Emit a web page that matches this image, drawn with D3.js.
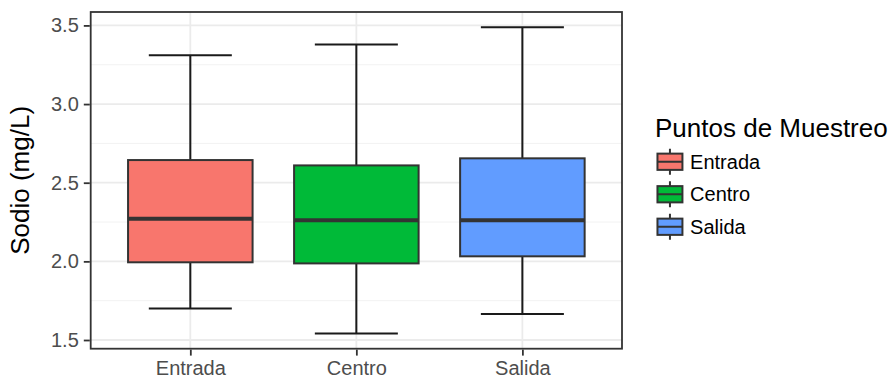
<!DOCTYPE html>
<html lang="en">
<head>
  <meta charset="UTF-8">
  <title>Sodio boxplot</title>
</head>
<body>
<style>
  * {
    padding: 0;
    margin: 0;
  }

  body {
    background: #fff;
  }

  #app {
    width: 894px;
    height: 379px;
  }

  #app svg {
    display: block;
    font-family: "Liberation Sans", Arial, sans-serif;
  }
</style>

<div id="app"></div>

<script src="https://cdn.jsdelivr.net/npm/d3@7"></script>
<script>
  // puntos de muestreo y sus resumenes
  var categories = ["Entrada", "Centro", "Salida"];
  var whiskerLow = [1.700, 1.542, 1.665];
  var q1 = [1.994, 1.987, 2.032];
  var median = [2.271, 2.261, 2.261];
  var q3 = [2.644, 2.610, 2.655];
  var whiskerHigh = [3.310, 3.379, 3.488];
  var fills = ["#F8766D", "#00BA38", "#619CFF"];
  var yTicks = [1.5, 2.0, 2.5, 3.0, 3.5];
  var yMinor = [1.75, 2.25, 2.75, 3.25];

  var W = 894, H = 379;
  var panel = {left: 90.7, top: 12, right: 622, bottom: 348.7};

  var svg = d3.select('#app').append('svg')
    .attr('width', W).attr('height', H)
    .attr('viewBox', '0,0 ' + W + ',' + H);

  var rows = categories.map(function (c, i) {
    return {name: c, lo: whiskerLow[i], q1: q1[i], med: median[i], q3: q3[i], hi: whiskerHigh[i], fill: fills[i]};
  });

  // ggplot-like 5% expansion
  var ext = [d3.min(whiskerLow), d3.max(whiskerHigh)];
  var pad = (ext[1] - ext[0]) * 0.05;
  var y = d3.scaleLinear().domain([ext[0] - pad, ext[1] + pad]).range([panel.bottom, panel.top]);
  var x = d3.scalePoint().domain(categories).range([panel.left, panel.right]).padding(0.6);
  var step = x.step();

  // grid
  var grid = svg.append('g');
  grid.selectAll('.minor').data(yMinor).join('line')
    .attr('x1', panel.left).attr('x2', panel.right)
    .attr('y1', d => y(d)).attr('y2', d => y(d))
    .attr('stroke', '#F2F2F2').attr('stroke-width', 1);
  grid.selectAll('.major').data(yTicks).join('line')
    .attr('x1', panel.left).attr('x2', panel.right)
    .attr('y1', d => y(d)).attr('y2', d => y(d))
    .attr('stroke', '#EBEBEB').attr('stroke-width', 1.8);
  grid.selectAll('.vmajor').data(categories).join('line')
    .attr('x1', d => x(d)).attr('x2', d => x(d))
    .attr('y1', panel.top).attr('y2', panel.bottom)
    .attr('stroke', '#EBEBEB').attr('stroke-width', 1.8);

  // error bars (whiskers with caps)
  var eb = svg.append('g').selectAll('g').data(rows).join('g');
  eb.append('line')
    .attr('x1', d => x(d.name)).attr('x2', d => x(d.name))
    .attr('y1', d => y(d.lo)).attr('y2', d => y(d.hi))
    .attr('stroke', '#1a1a1a').attr('stroke-width', 2);
  eb.append('line')
    .attr('x1', d => x(d.name) - step * 0.25).attr('x2', d => x(d.name) + step * 0.25)
    .attr('y1', d => y(d.hi)).attr('y2', d => y(d.hi))
    .attr('stroke', '#1a1a1a').attr('stroke-width', 2);
  eb.append('line')
    .attr('x1', d => x(d.name) - step * 0.25).attr('x2', d => x(d.name) + step * 0.25)
    .attr('y1', d => y(d.lo)).attr('y2', d => y(d.lo))
    .attr('stroke', '#1a1a1a').attr('stroke-width', 2);

  // boxes
  var bx = svg.append('g').selectAll('g').data(rows).join('g');
  bx.append('rect')
    .attr('x', d => x(d.name) - step * 0.375).attr('width', step * 0.75)
    .attr('y', d => y(d.q3)).attr('height', d => y(d.q1) - y(d.q3))
    .attr('fill', d => d.fill).attr('stroke', '#333333').attr('stroke-width', 2);
  bx.append('line')
    .attr('x1', d => x(d.name) - step * 0.375).attr('x2', d => x(d.name) + step * 0.375)
    .attr('y1', d => y(d.med)).attr('y2', d => y(d.med))
    .attr('stroke', '#333333').attr('stroke-width', 4);

  // panel border
  svg.append('rect')
    .attr('x', panel.left).attr('y', panel.top)
    .attr('width', panel.right - panel.left).attr('height', panel.bottom - panel.top)
    .attr('fill', 'none').attr('stroke', '#333333').attr('stroke-width', 1.8);

  // axes
  var yAxis = svg.append('g')
    .attr('transform', 'translate(' + (panel.left - 0.9) + ',0)')
    .call(d3.axisLeft(y).tickValues(yTicks).tickFormat(d3.format('.1f')).tickSize(6).tickPadding(5));
  var xAxis = svg.append('g')
    .attr('transform', 'translate(0,' + (panel.bottom + 0.9) + ')')
    .call(d3.axisBottom(x).tickSize(6).tickPadding(4));
  [yAxis, xAxis].forEach(function (a) {
    a.select('.domain').remove();
    a.selectAll('.tick line').attr('stroke', '#333333').attr('stroke-width', 1.8);
    a.selectAll('.tick text').attr('fill', '#4D4D4D')
      .style('font-size', '20px').style('font-family', '"Liberation Sans", Arial, sans-serif');
  });
  xAxis.selectAll('.tick text').attr('dy', '0.75em');

  // axis title
  svg.append('text')
    .attr('transform', 'translate(29,' + ((panel.top + panel.bottom) / 2) + ') rotate(-90)')
    .attr('text-anchor', 'middle')
    .style('font-size', '26px').attr('fill', '#000')
    .text('Sodio (mg/L)');

  // legend
  var lg = svg.append('g');
  lg.append('text').attr('x', 655).attr('y', 137)
    .style('font-size', '26px').attr('fill', '#000')
    .text('Puntos de Muestreo');
  var keyH = 32.5, keyW = 33.3, keyX = 653.3, keyY0 = 145.5;
  var keys = lg.selectAll('.key').data(rows).join('g')
    .attr('transform', (d, i) => 'translate(' + keyX + ',' + (keyY0 + i * keyH) + ')');
  keys.append('line')
    .attr('x1', keyW / 2).attr('x2', keyW / 2)
    .attr('y1', keyH * 0.1).attr('y2', keyH * 0.9)
    .attr('stroke', '#333333').attr('stroke-width', 2);
  keys.append('rect')
    .attr('x', keyW * 0.125).attr('width', keyW * 0.75)
    .attr('y', keyH * 0.25).attr('height', keyH * 0.5)
    .attr('fill', d => d.fill).attr('stroke', '#333333').attr('stroke-width', 2);
  keys.append('line')
    .attr('x1', keyW * 0.125).attr('x2', keyW * 0.875)
    .attr('y1', keyH * 0.5).attr('y2', keyH * 0.5)
    .attr('stroke', '#333333').attr('stroke-width', 2);
  keys.append('text')
    .attr('x', keyW + 3.5).attr('y', keyH / 2).attr('dy', '0.35em')
    .style('font-size', '20px').attr('fill', '#000')
    .text(d => d.name);
</script>

</body>
</html>
